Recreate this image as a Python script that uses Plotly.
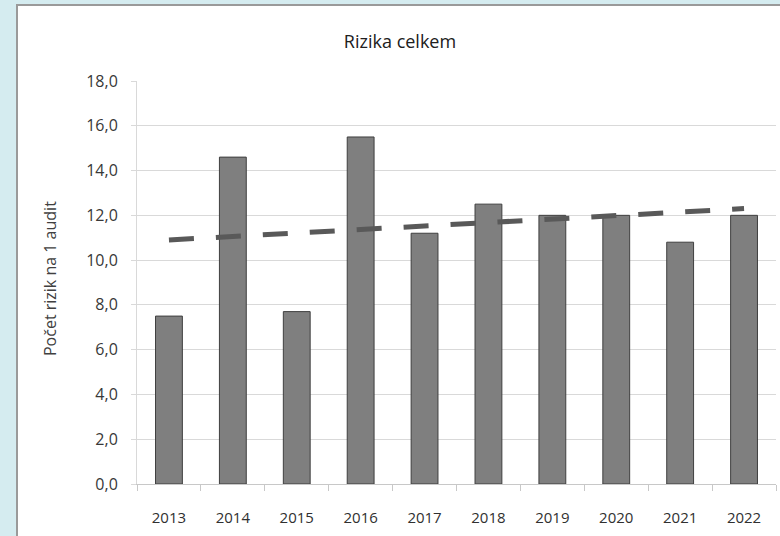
import plotly.graph_objects as go

years = ["2013", "2014", "2015", "2016", "2017", "2018", "2019", "2020", "2021", "2022"]
risks = [7.5, 14.6, 7.7, 15.5, 11.2, 12.5, 12.0, 12.0, 10.8, 12.0]
trend_years = ["2013", "2022"]
trend_values = [10.9, 12.3]
y_ticks = [0, 2, 4, 6, 8, 10, 12, 14, 16, 18]

W, H = 780, 536
L, R, T, B = 137, 4, 81, 52
pw, ph = W - L - R, H - T - B

def px_x(p):
    return (p - L) / pw

def px_y(p):
    return (H - B - p) / ph

fig = go.Figure()
fig.add_trace(go.Bar(
    x=years, y=risks,
    marker=dict(color="#7f7f7f", line=dict(color="#3f3f3f", width=1)),
    showlegend=False,
))
fig.add_trace(go.Scatter(
    x=trend_years, y=trend_values, mode="lines",
    line=dict(color="#595959", width=5, dash="25px,22px"),
    showlegend=False,
))

fig.update_layout(
    width=W, height=H,
    margin=dict(l=L, r=R, t=T, b=B),
    paper_bgcolor="#d5ecf0",
    plot_bgcolor="rgba(0,0,0,0)",
    separators=", ",
    bargap=0.58,
    font=dict(family="Open Sans", size=12, color="#404040"),
    title=dict(text="Rizika celkem", x=400 / W, xanchor="center",
               y=1 - 42 / H, yanchor="middle",
               font=dict(family="Open Sans", size=18, color="#202020")),
    shapes=[dict(type="rect", xref="paper", yref="paper", layer="below",
                 x0=px_x(17), x1=px_x(790), y0=px_y(560), y1=px_y(5),
                 fillcolor="white", line=dict(color="#9a9a9a", width=2))],
    annotations=[dict(text="Počet rizik na 1 audit", xref="paper", yref="paper",
                      x=px_x(50), y=px_y(279), textangle=-90, showarrow=False,
                      xanchor="center", yanchor="middle",
                      font=dict(family="Open Sans", size=16, color="#404040"))],
)
fig.update_yaxes(
    range=[0, 18], tickvals=y_ticks, tickformat=".1f",
    showgrid=True, gridcolor="#d9d9d9", gridwidth=1,
    showline=True, linecolor="#d9d9d9", linewidth=1,
    ticks="outside", ticklen=5, tickcolor="#d9d9d9",
    ticklabelstandoff=10, zeroline=False,
    tickfont=dict(family="Open Sans", size=16, color="#383838"),
)
fig.update_xaxes(
    type="category", showline=True, linecolor="#c8c8c8", linewidth=1,
    ticks="outside", ticklen=6, tickcolor="#c8c8c8", tickson="boundaries",
    ticklabelstandoff=20, showgrid=False,
    tickfont=dict(family="Open Sans", size=15, color="#303030"),
)

fig.write_html("out.html")
